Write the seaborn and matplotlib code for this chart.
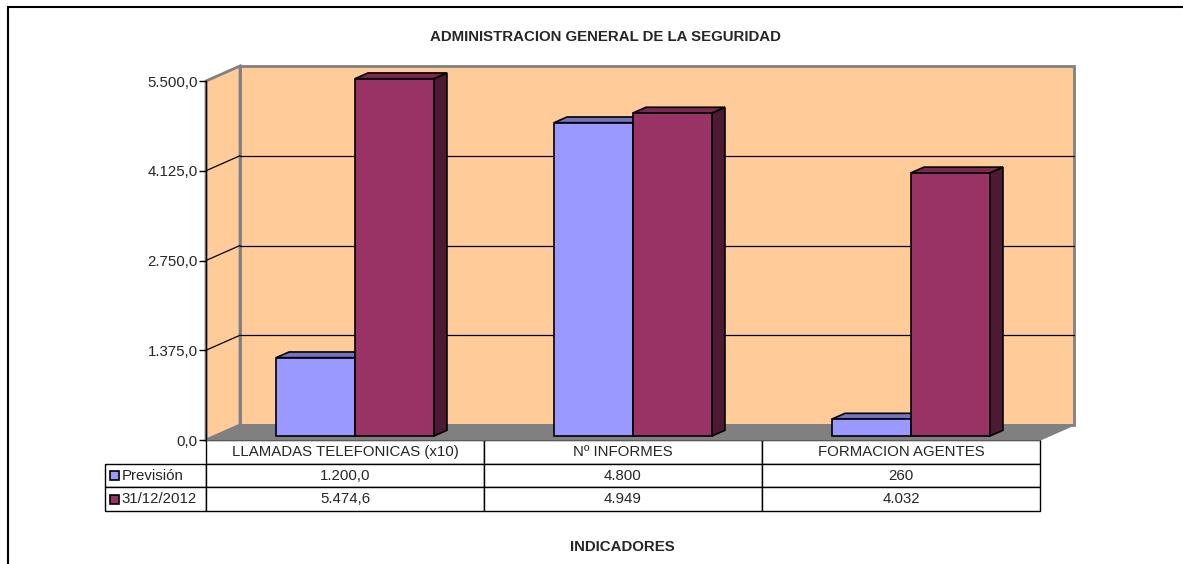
import numpy as np
import pandas as pd
import matplotlib
matplotlib.use("Agg")
import matplotlib.pyplot as plt
import seaborn as sns
from matplotlib.patches import Polygon, Rectangle
from matplotlib.ticker import FuncFormatter

# ====================== datos ======================
CATEGORIAS = ['LLAMADAS TELEFONICAS (x10)', 'Nº INFORMES', 'FORMACION AGENTES']
SERIES = ['Previsión', '31/12/2012']
PREVISION = [1200.0, 4800, 260]
REAL = [5474.6, 4949, 4032]
TEXTO_PREVISION = ['1.200,0', '4.800', '260']
TEXTO_REAL = ['5.474,6', '4.949', '4.032']
YTICKS = [0, 1375, 2750, 4125, 5500]

COLOR_FRENTE = ['#9999FF', '#993366']
COLOR_TECHO = ['#7373BF', '#7A2952']
COLOR_LADO = ['#4D4D80', '#4D1A33']
PARED = '#FFCC99'
SUELO = '#808080'
FS = 10.8

sns.set_style('white')
plt.rcParams['font.family'] = ['Liberation Sans', 'DejaVu Sans']

df = pd.DataFrame({
    'indicador': CATEGORIAS * 2,
    'serie': [SERIES[0]] * 3 + [SERIES[1]] * 3,
    'valor': PREVISION + REAL,
})

W, H = 1183, 564
fig = plt.figure(figsize=(W / 100, H / 100), dpi=100)
ax = fig.add_axes([206 / W, (H - 440) / H, 834 / W, 359 / H])

sns.barplot(data=df, x='indicador', y='valor', hue='serie', hue_order=SERIES,
            palette=COLOR_FRENTE, width=0.568, saturation=1, legend=False,
            edgecolor='black', linewidth=1.2, ax=ax)
ax.set_xlim(-0.5, 2.5)
ax.set_ylim(0, 5500)


def px(dx, dy):
    # desplazamiento en pixeles -> unidades de datos
    p0 = ax.transData.transform((0, 0))
    return ax.transData.inverted().transform(p0 + np.array([dx, dy]))


BX, BY = px(34, 15)   # fondo
FX, FY = px(10, 4)    # frente de las barras
DX, DY = px(13, 5.7)  # profundidad de las barras

# pared del fondo, pared lateral y suelo
ax.add_patch(Polygon([(-0.5 + BX, BY), (2.5 + BX, BY), (2.5 + BX, 5500 + BY), (-0.5 + BX, 5500 + BY)],
                     closed=True, fc=PARED, ec='#808080', lw=2, zorder=0, clip_on=False))
ax.add_patch(Polygon([(-0.5, 0), (-0.5 + BX, BY), (-0.5 + BX, 5500 + BY), (-0.5, 5500)],
                     closed=True, fc=PARED, ec='#808080', lw=2, zorder=0.5, clip_on=False))
for t in YTICKS[1:-1]:
    ax.plot([-0.5 + BX, 2.5 + BX], [t + BY, t + BY], color='black', lw=0.9, zorder=0.6, clip_on=False)
    ax.plot([-0.5, -0.5 + BX], [t, t + BY], color='black', lw=0.9, zorder=0.6, clip_on=False)
ax.add_patch(Polygon([(-0.5, 0), (2.5, 0), (2.5 + BX, BY), (-0.5 + BX, BY)],
                     closed=True, fc=SUELO, ec=SUELO, lw=1, zorder=0.7, clip_on=False))

# barras 3D
bars = list(ax.patches[:6])
order = sorted(range(len(bars)), key=lambda i: bars[i].get_x())
for k, i in enumerate(order):
    b = bars[i]
    s = 0 if i < 3 else 1
    x0 = b.get_x() + FX
    x1 = x0 + b.get_width()
    h = b.get_height()
    b.set_x(x0)
    b.set_y(FY)
    b.set_zorder(3 + 3 * k)
    b.set_clip_on(False)
    ax.add_patch(Polygon([(x1, FY), (x1 + DX, FY + DY), (x1 + DX, FY + h + DY), (x1, FY + h)],
                         closed=True, fc=COLOR_LADO[s], ec='black', lw=1.2,
                         zorder=1 + 3 * k, clip_on=False))
    ax.add_patch(Polygon([(x0, FY + h), (x1, FY + h), (x1 + DX, FY + h + DY), (x0 + DX, FY + h + DY)],
                         closed=True, fc=COLOR_TECHO[s], ec='black', lw=1.2,
                         zorder=2 + 3 * k, clip_on=False))

# ejes
for side in ['top', 'right', 'bottom']:
    ax.spines[side].set_visible(False)
ax.spines['left'].set_color('black')
ax.spines['left'].set_linewidth(1)
ax.spines['left'].set_zorder(30)
ax.set_yticks(YTICKS)
ax.yaxis.set_major_formatter(FuncFormatter(
    lambda v, p: f'{v:,.1f}'.replace(',', 'X').replace('.', ',').replace('X', '.')))
ax.tick_params(axis='y', left=True, length=5, width=1, color='black', labelsize=FS, pad=1)
ax.set_xticks([])
ax.set_xlabel('')
ax.set_ylabel('')
ax.patch.set_visible(False)

# tabla de datos
filas = [[SERIES[0]] + TEXTO_PREVISION, [SERIES[1]] + TEXTO_REAL]
lw0 = 101 / 834
tabla = ax.table(cellText=filas, colLabels=[''] + CATEGORIAS,
                 colWidths=[lw0, 1 / 3, 1 / 3, 1 / 3], cellLoc='center',
                 bbox=[-lw0, -71 / 359, 1 + lw0, 71 / 359])
tabla.auto_set_font_size(False)
tabla.set_fontsize(FS)
for (r, c), cell in tabla.get_celld().items():
    cell.set_linewidth(1)
    cell.set_edgecolor('black')
    if c == 0:
        cell._loc = 'left'
        cell.get_text().set_ha('left')
        cell.PAD = 0.165
tabla[0, 0].set_visible(False)
for r, s in enumerate(SERIES):
    ax.add_patch(Rectangle((-96 / 834, -(24 * (r + 1) + 16) / 359), 9 / 834, 9 / 359,
                           transform=ax.transAxes, fc=COLOR_FRENTE[r], ec='black', lw=1.2,
                           clip_on=False, zorder=40))

# titulos y marco
fig.text(605 / W, 1 - 37 / H, 'ADMINISTRACION GENERAL DE LA SEGURIDAD', ha='center', va='center',
         fontsize=FS, fontweight='bold')
fig.text(622 / W, 1 - 547 / H, 'INDICADORES', ha='center', va='center',
         fontsize=FS, fontweight='bold')
fig.patches.append(Rectangle((8 / W, -0.1), 1.2, 1 - 7 / H + 0.1, transform=fig.transFigure,
                             fill=False, ec='black', lw=1.5))

fig.savefig('out.png', dpi=100)
